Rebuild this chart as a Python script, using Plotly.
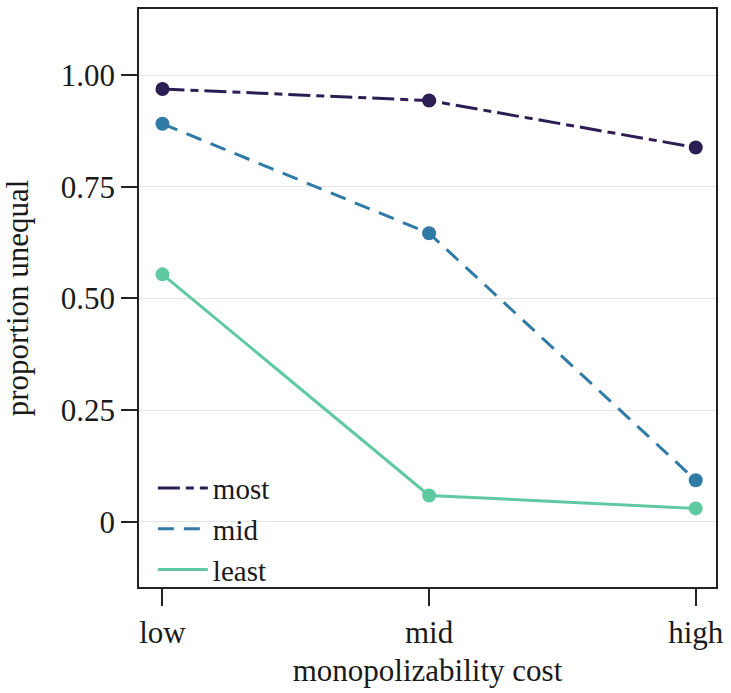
import plotly.graph_objects as go

categories = ["low", "mid", "high"]
most = [0.969, 0.943, 0.838]
mid = [0.891, 0.646, 0.093]
least = [0.554, 0.059, 0.030]
y_tick_vals = [0, 0.25, 0.5, 0.75, 1.0]
y_tick_text = ["0", "0.25", "0.50", "0.75", "1.00"]

series = [
    ("most", most, "#2c1d52", "22px,6px,8px,6px"),
    ("mid", mid, "#2f7ba6", "16px,10px"),
    ("least", least, "#5fc9a1", "solid"),
]

fig = go.Figure()
xs = list(range(len(categories)))
for name, vals, color, dash in series:
    fig.add_trace(go.Scatter(
        x=xs, y=vals, name=name, mode="lines",
        line=dict(color=color, width=3, dash=dash),
    ))
for name, vals, color, dash in series:
    fig.add_trace(go.Scatter(
        x=xs, y=vals, name=name, mode="markers",
        marker=dict(color=color, size=14),
        showlegend=False,
    ))

font_family = "Liberation Serif"
fs = 31
fig.update_layout(
    width=731, height=693,
    margin=dict(l=139, r=11, t=7, b=106),
    paper_bgcolor="white", plot_bgcolor="white",
    font=dict(family=font_family, size=fs, color="#1a1a1a"),
    showlegend=True,
    legend=dict(x=0.024, y=0.1, xanchor="left", yanchor="middle",
                bgcolor="rgba(0,0,0,0)", font=dict(size=29),
                itemwidth=50, tracegroupgap=0),
    xaxis=dict(
        tickvals=xs, ticktext=categories, range=[-0.088, 2.076],
        showgrid=False, zeroline=False,
        showline=True, mirror=True, linecolor="#222", linewidth=1.5,
        ticks="outside", ticklen=17, tickwidth=1.5, tickcolor="#222",
        tickfont=dict(size=fs),
        title=dict(text="monopolizability cost", font=dict(size=fs), standoff=10),
    ),
    yaxis=dict(
        tickvals=y_tick_vals, ticktext=y_tick_text, range=[-0.146, 1.148],
        showgrid=True, gridcolor="#e4e4e4", gridwidth=1, zeroline=False,
        showline=True, mirror=True, linecolor="#222", linewidth=1.5,
        ticks="outside", ticklen=16, tickwidth=1.5, tickcolor="#222",
        tickfont=dict(size=fs),
        title=dict(text="proportion unequal", font=dict(size=fs), standoff=28),
    ),
)

fig.write_html("out.html", config={"displayModeBar": False},
               post_script="document.body.style.margin='0px';")
